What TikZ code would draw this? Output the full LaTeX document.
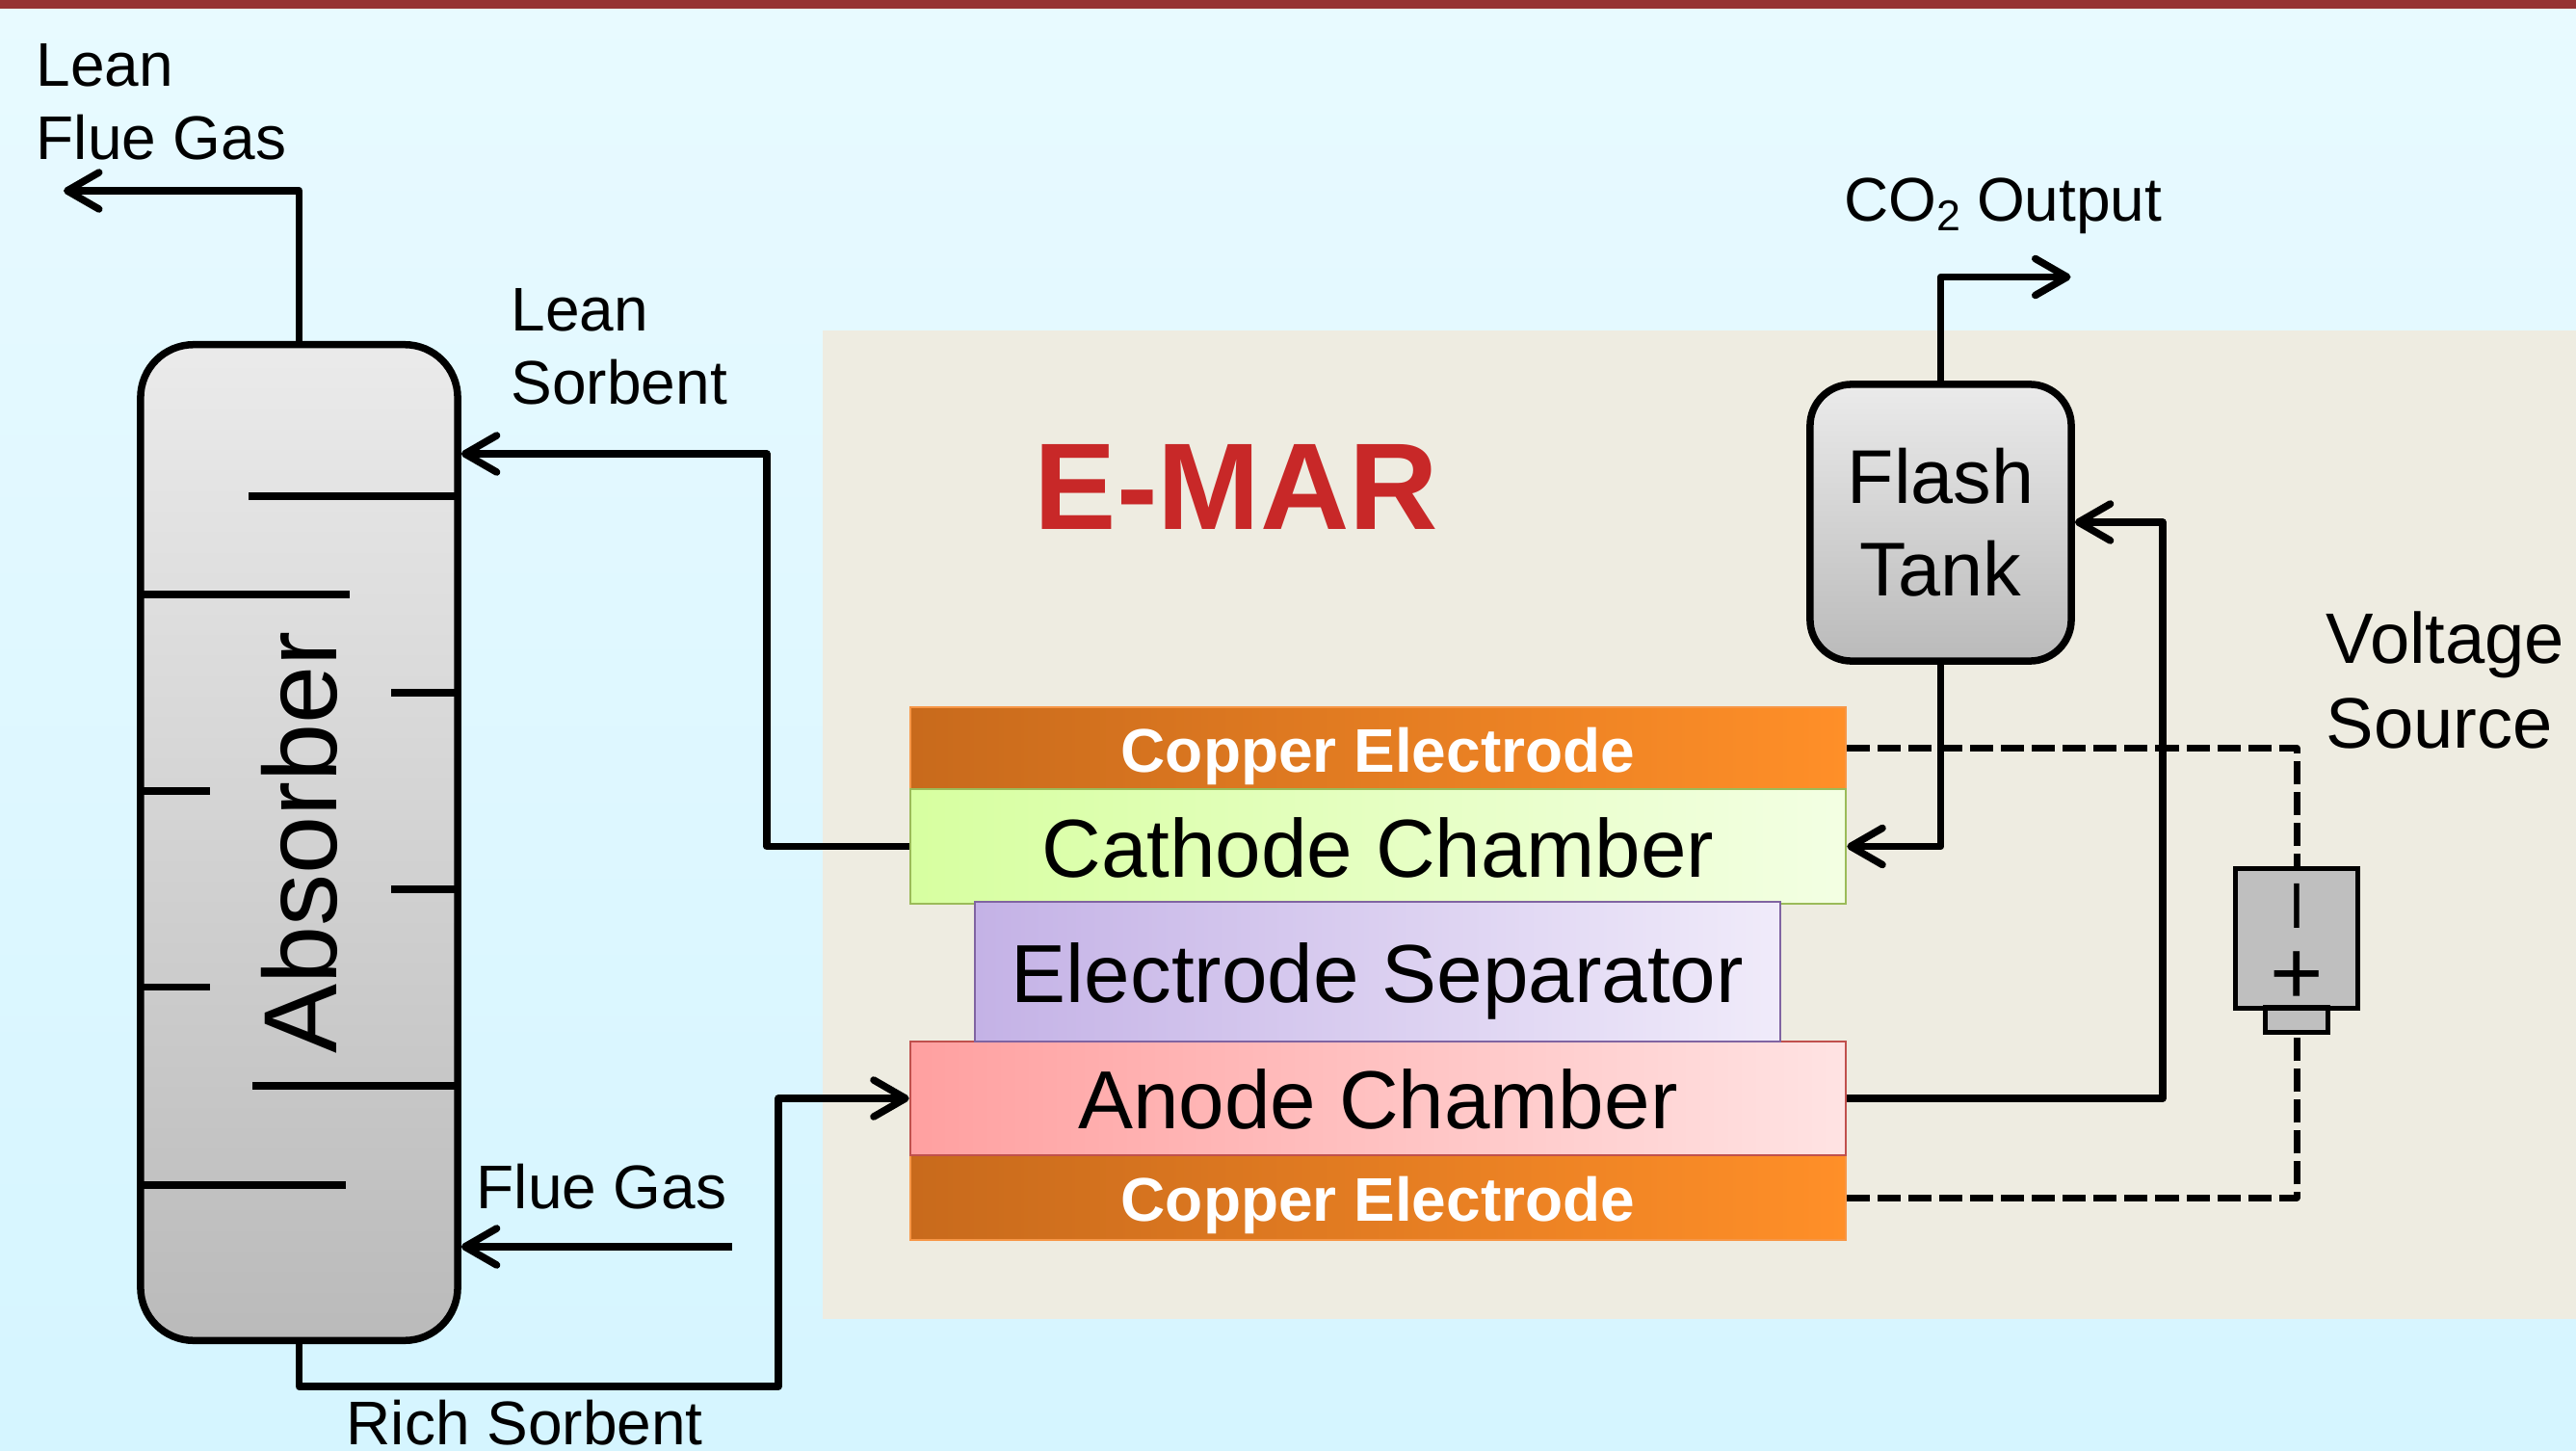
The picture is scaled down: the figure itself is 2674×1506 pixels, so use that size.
\documentclass[tikz,border=0pt]{standalone}
\usepackage{fontspec}
\setmainfont{Liberation Sans}
\usetikzlibrary{arrows.meta}
\definecolor{skytop}{HTML}{E8FAFF}
\definecolor{skybot}{HTML}{D5F5FF}
\definecolor{barcol}{HTML}{963333}
\definecolor{panelcol}{HTML}{EEECE1}
\definecolor{coppercol}{HTML}{C86A1C}
\definecolor{copperend}{HTML}{FF8F28}
\definecolor{copperline}{HTML}{F79646}
\definecolor{emarcol}{HTML}{C82828}
\tikzset{>={Straight Barb[length=0.33cm,width=0.38cm,round]}}
\tikzstyle{pipe}=[line width=0.075cm,line join=round]
\tikzstyle{wire}=[line width=0.07cm,line join=round,dash pattern=on 0.24cm off 0.08cm]
\tikzstyle{vessel}=[draw,line width=0.075cm,top color=black!8,bottom color=black!27]
\tikzstyle{layer}=[draw,line width=0.02cm,minimum width=9.71cm,inner sep=0,text height=0.63cm,text depth=0]
\tikzstyle{copperbox}=[layer,copperline,left color=coppercol,right color=copperend,text=white]
\tikzstyle{txt}=[anchor=base west,inner sep=0,align=left]
\def\bigtxt{\fontsize{24.3}{28}\selectfont}
\def\midtxt{\fontsize{18.2}{21.6}\selectfont}
\def\coppertxt{\fontsize{18.2}{21}\selectfont\bfseries}

\begin{document}
\begin{tikzpicture}[x=0.01cm,y=-0.01cm]
  \useasboundingbox (0,0) rectangle (2674,1506);

  % BACKGROUND
  \shade[top color=skytop,bottom color=skybot] (0,0) rectangle (2674,1506);
  \fill[barcol] (0,0) rectangle (2674,9);
  \fill[panelcol] (854,343) rectangle (2674,1369);

  % CELL
  \node[copperbox,minimum height=0.85cm,text height=0.49cm] (topcopper) at (1430.5,776.5) {\coppertxt Copper Electrode};
  \node[layer,draw={rgb,255:red,155;green,187;blue,89},left color={rgb,255:red,215;green,255;blue,160},right color={rgb,255:red,243;green,255;blue,227},minimum height=1.19cm] (cathode) at (1430.5,878.5) {\bigtxt Cathode Chamber};
  \node[copperbox,minimum height=0.88cm,text height=0.49cm] (botcopper) at (1430.5,1243) {\coppertxt Copper Electrode};
  \node[layer,draw={rgb,255:red,192;green,80;blue,77},left color={rgb,255:red,255;green,160;blue,160},right color={rgb,255:red,255;green,227;blue,227},minimum height=1.18cm] (anode) at (1430.5,1140) {\bigtxt Anode Chamber};
  \node[layer,draw={rgb,255:red,128;green,100;blue,162},left color={rgb,255:red,196;green,178;blue,230},right color={rgb,255:red,240;green,235;blue,250},minimum width=8.36cm,minimum height=1.45cm] (separator) at (1430,1008.5) {\bigtxt Electrode Separator};
  \node[font=\bfseries\fontsize{36.4}{40}\selectfont,text=emarcol,inner sep=0,anchor=base west] (emar) at (1073,549) {E-MAR};

  % VESSELS
  \node[vessel,rounded corners=0.55cm,minimum width=3.29cm,minimum height=10.33cm] (absorber) at (310.5,874.5) {};
  \node[vessel,rounded corners=0.43cm,minimum width=2.71cm,minimum height=2.87cm,align=center,font=\fontsize{22.5}{27.3}\selectfont] (flash) at (2014.5,542.5) {Flash\\Tank};
  \node[rotate=90,font=\fontsize{30.7}{34}\selectfont,inner sep=0] (absorbertxt) at (absorber) {Absorber};

  % TRAYS
  \foreach \y/\x in {515/258,719/406,923/406,1127/262}
    \draw[pipe] (absorber.east |- 0,\y) -- (\x,\y);
  \foreach \y/\x in {617/363,821/218,1024.5/218,1230/359}
    \draw[pipe] (absorber.west |- 0,\y) -- (\x,\y);

  % BATTERY
  \node[draw,line width=0.05cm,fill=black!25,minimum width=1.26cm,minimum height=1.44cm,inner sep=0] (battery) at (2384,974) {};
  \node[draw,line width=0.05cm,fill=black!25,minimum width=0.65cm,minimum height=0.25cm,inner sep=0] (batterytip) at (2384,1058.5) {};
  \node[rotate=90,inner sep=0,font=\fontsize{23.6}{26}\selectfont] (minus) at (2394,940) {--};
  \node[inner sep=0,font=\fontsize{27}{30}\selectfont] (plus) at (2384,1015) {+};

  % STREAMS
  \coordinate (leanout) at (66,198);
  \coordinate (co2out) at (2149.5,287.5);
  \coordinate (fluein) at (760,1294);
  \coordinate (leanin) at (796,471);
  \coordinate (richup) at (808,1439);
  \coordinate (tankin) at (2245,542);
  \draw[pipe,->] (absorber.north) |- (leanout);
  \draw[pipe,->] (cathode.west) -| (leanin) -- (absorber.east |- leanin);
  \draw[pipe,->] (fluein) -- (absorber.east |- fluein);
  \draw[pipe,->] (absorber.south) |- (richup) |- (anode.west);
  \draw[pipe,->] (flash.north) |- (co2out);
  \draw[pipe,->] (flash.south) |- (cathode.east);
  \draw[pipe,->] (anode.east) -| (tankin) -- (flash.east |- tankin);
  \draw[wire] (topcopper.east) -| (battery.north);
  \draw[wire] (botcopper.east) -| (batterytip.south);

  % LABELS
  \node[txt,font=\midtxt] (leanflue) at (37,165) {Lean\\Flue Gas};
  \node[txt,font=\midtxt] (leansorb) at (530,419) {Lean\\Sorbent};
  \node[txt,font=\midtxt] (fluegas) at (494,1254) {Flue Gas};
  \node[txt,font=\midtxt] (richsorb) at (359,1499) {Rich Sorbent};
  \node[txt,font=\midtxt] (co2txt) at (1914,229.5) {CO\textsubscript{2}\kern-0.03cm{} Output};
  \node[txt,font=\fontsize{21.1}{25}\selectfont] (voltage) at (2414,776) {Voltage\\Source};
\end{tikzpicture}
\end{document}
